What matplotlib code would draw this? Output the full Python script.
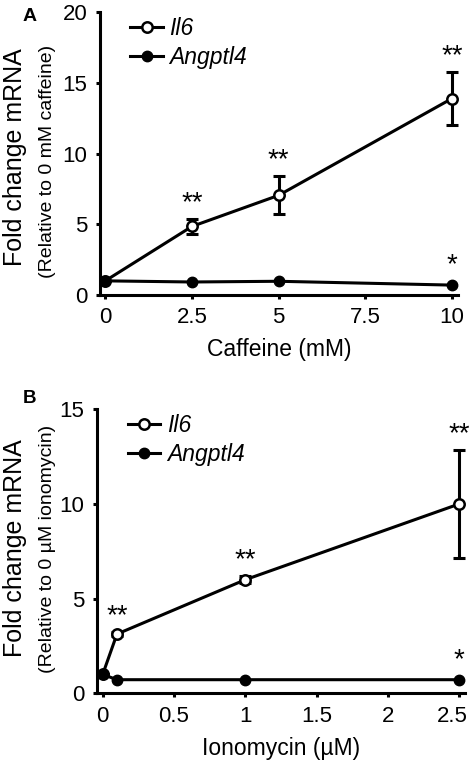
import numpy as np
import matplotlib.pyplot as plt
from matplotlib.transforms import ScaledTranslation

plt.rcParams['font.family'] = ['Liberation Sans', 'DejaVu Sans']

# Panel A: caffeine
caf_dose = [0, 2.5, 5, 10]
caf_il6 = [1.0, 4.85, 7.05, 13.9]
caf_il6_err = [0, 0.5, 1.35, 1.9]
caf_ang = [1.0, 0.92, 0.97, 0.7]
caf_il6_stars = ['', '**', '**', '**']
caf_ang_stars = ['', '', '', '*']

# Panel B: ionomycin
ion_dose = [0, 0.1, 1, 2.5]
ion_il6 = [1.0, 3.13, 6.0, 10.0]
ion_il6_err = [0, 0.1, 0.2, 2.87]
ion_ang = [1.0, 0.72, 0.72, 0.72]
ion_il6_stars = ['', '**', '**', '**']
ion_ang_stars = ['', '', '', '*']


def draw_panel(ax, x, il6, il6_err, ang, il6_stars, ang_stars,
               xlim, ylim, xticks, xticklabels, yticks, xlabel):
    ax.plot(x, il6, color='black', lw=2.2, marker='o', ms=7.5,
            mfc='white', mec='black', mew=1.8, label='Il6', zorder=4)
    ax.errorbar(x, il6, yerr=il6_err, fmt='none', ecolor='black',
                capsize=4.5, capthick=2.2, elinewidth=2.2, zorder=3)
    ax.plot(x, ang, color='black', lw=2.2, marker='o', ms=7.5,
            label='Angptl4', zorder=5)
    for xi, yi, ei, s in zip(x, il6, il6_err, il6_stars):
        if s:
            ax.annotate(s, (xi, yi + ei), xytext=(0, 2), textcoords='offset points',
                        ha='center', va='bottom', fontsize=20)
    for xi, yi, s in zip(x, ang, ang_stars):
        if s:
            ax.annotate(s, (xi, yi), xytext=(0, 5), textcoords='offset points',
                        ha='center', va='bottom', fontsize=20)
    ax.set_xlim(*xlim)
    ax.set_ylim(*ylim)
    ax.set_xticks(xticks)
    ax.set_xticklabels(xticklabels)
    ax.set_yticks(yticks)
    ax.set_xlabel(xlabel, fontsize=16.5, labelpad=7)
    for side in ['top', 'right']:
        ax.spines[side].set_visible(False)
    for side in ['left', 'bottom']:
        ax.spines[side].set_linewidth(2.2)
    ax.tick_params(direction='out', length=3, width=2.2, labelsize=16, pad=6)
    leg = ax.legend(loc='upper left', bbox_to_anchor=(0.085, 0.985), frameon=False,
                    fontsize=16.5, handlelength=1.4, handletextpad=0.3,
                    labelspacing=0.3, borderaxespad=0, borderpad=0)
    for t in leg.get_texts():
        t.set_fontstyle('italic')


fig = plt.figure(figsize=(4.72, 7.69), dpi=100)
axA = fig.add_axes([0.212, 0.6164, 0.758, 0.3676])
axB = fig.add_axes([0.2055, 0.0984, 0.7795, 0.3694])

draw_panel(axA, caf_dose, caf_il6, caf_il6_err, caf_ang, caf_il6_stars, caf_ang_stars,
           (-0.15, 10.17), (0, 20), [0, 2.5, 5, 7.5, 10],
           ['0', '2.5', '5', '7.5', '10'], [0, 5, 10, 15, 20], 'Caffeine (mM)')
draw_panel(axB, ion_dose, ion_il6, ion_il6_err, ion_ang, ion_il6_stars, ion_ang_stars,
           (-0.04, 2.54), (0, 15), [0, 0.5, 1, 1.5, 2, 2.5],
           ['0', '0.5', '1', '1.5', '2', '2.5'], [0, 5, 10, 15], 'Ionomycin (\u00b5M)')

# nudge the last tick label of panel B so it stays inside the figure
last = axB.get_xticklabels()[-1]
last.set_transform(last.get_transform() + ScaledTranslation(-5 / 72, 0, fig.dpi_scale_trans))

fig.text(0.032, 0.796, 'Fold change mRNA', rotation=90, ha='center', va='center', fontsize=18)
fig.text(0.1, 0.79, '(Relative to 0 mM caffeine)', rotation=90, ha='center', va='center', fontsize=14)
fig.text(0.032, 0.287, 'Fold change mRNA', rotation=90, ha='center', va='center', fontsize=18)
fig.text(0.1, 0.286, '(Relative to 0 \u00b5M ionomycin)', rotation=90, ha='center', va='center', fontsize=14)

fig.text(0.0625, 0.9727, 'A', fontsize=14, fontweight='bold', ha='center', va='baseline')
fig.text(0.0635, 0.476, 'B', fontsize=13.5, fontweight='bold', ha='center', va='baseline')

fig.savefig('out.png', dpi=100)
